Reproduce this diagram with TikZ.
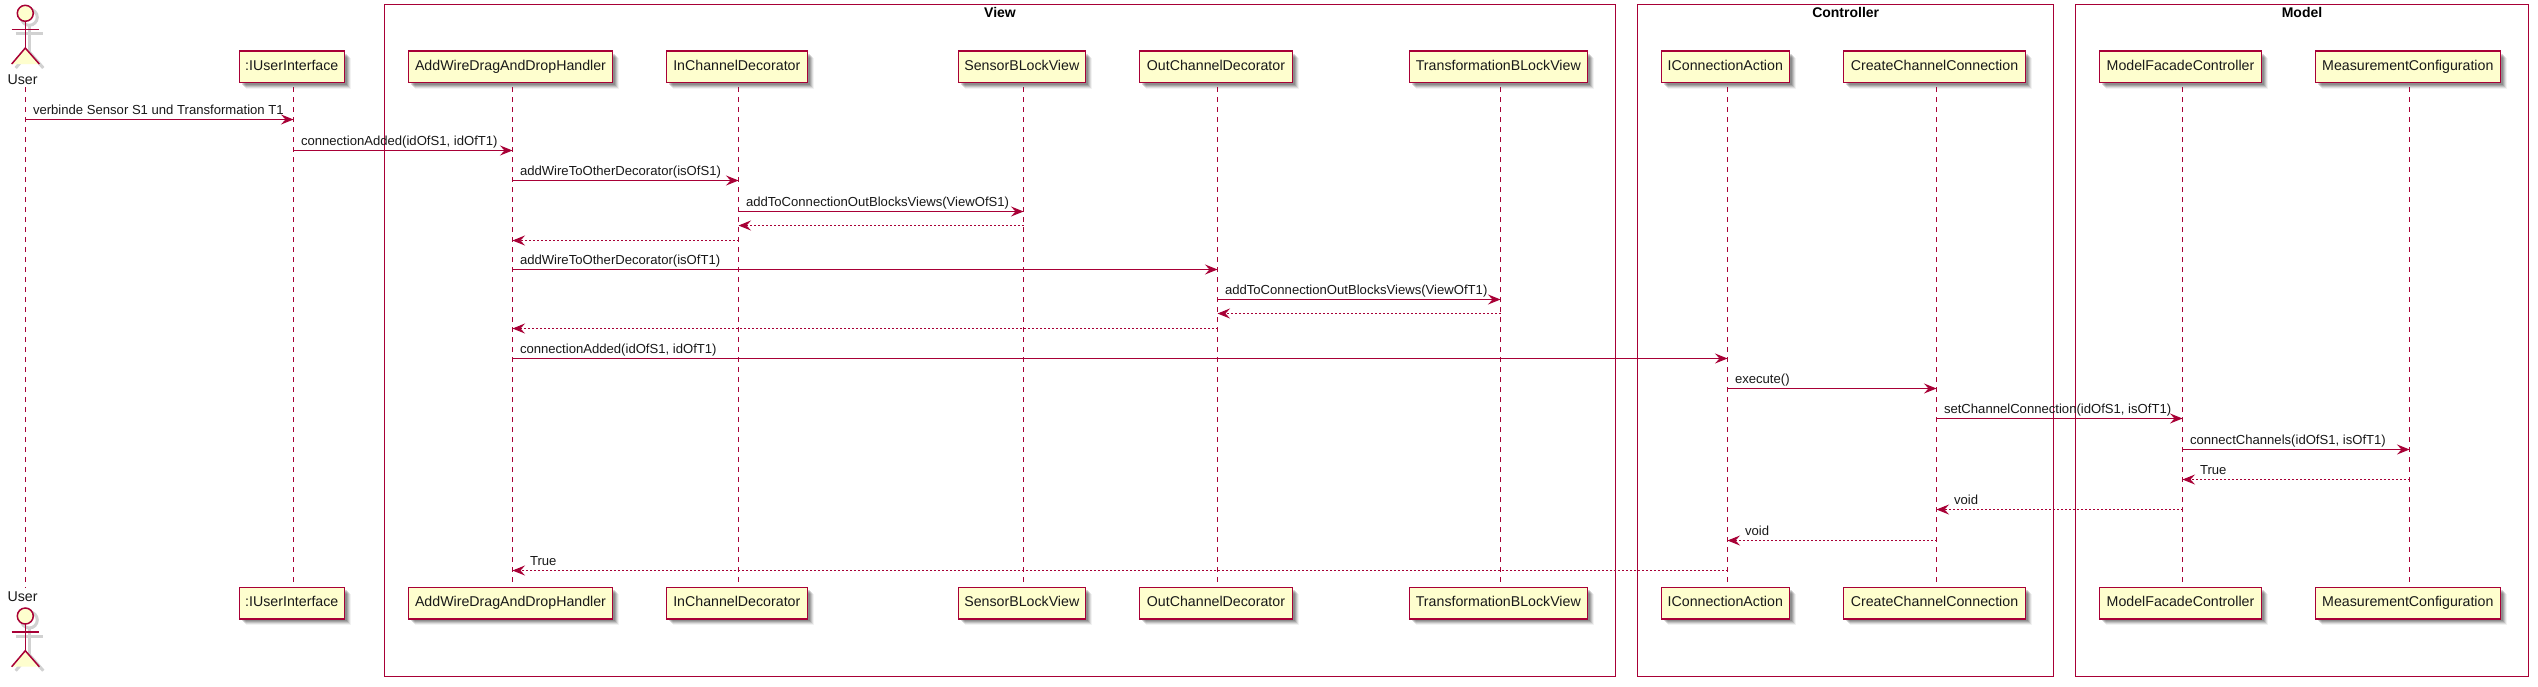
\documentclass[tikz,border=0pt]{standalone}
\usepackage{fontspec}
\setmainfont{Liberation Sans}
\usetikzlibrary{arrows.meta,shadows}
\definecolor{puml}{HTML}{A80036}
\definecolor{pfill}{HTML}{FEFECE}
\tikzset{
  softshadow/.style={
    general shadow={shadow xshift=6.5pt,shadow yshift=-6.5pt,fill=black,draw=none,opacity=.05},
    general shadow={shadow xshift=5.5pt,shadow yshift=-5.5pt,fill=black,draw=none,opacity=.09},
    general shadow={shadow xshift=4.5pt,shadow yshift=-4.5pt,fill=black,draw=none,opacity=.12},
    general shadow={shadow xshift=3.5pt,shadow yshift=-3.5pt,fill=black,draw=none,opacity=.14},
    general shadow={shadow xshift=2.5pt,shadow yshift=-2.5pt,fill=black,draw=none,opacity=.14}},
  pbox/.style={draw=puml,fill=pfill,line width=1.5pt,minimum height=31.3pt,inner sep=0pt,outer sep=0pt,
    font=\fontsize{14.2}{16}\selectfont,text height=10.5pt,text depth=3pt,text=black!90,softshadow},
  frame/.style={draw=puml,line width=1pt,inner sep=0pt,outer sep=0pt},
  frametitle/.style={font=\fontsize{14}{16}\selectfont\bfseries,inner sep=0pt},
  actorname/.style={font=\fontsize{14.2}{16}\selectfont,inner sep=0pt,text=black!90},
  lifeline/.style={draw=puml,line width=1pt,dash pattern=on 5pt off 5pt},
  msg/.style={draw=puml,line width=1pt,-{Stealth[length=12.5pt,width=10pt,inset=4.5pt,color=puml]}},
  ret/.style={draw=puml,line width=1pt,dash pattern=on 2pt off 2pt,-{Stealth[length=12.5pt,width=10pt,inset=4.5pt,color=puml]}},
  msgtext/.style={font=\fontsize{13.1}{15}\selectfont,inner sep=0pt,anchor=base west,text=black!90},
  actorline/.style={draw=puml,line width=1.5pt},
  actorshade/.style={draw=black!18,line width=3pt},
}
% name, text, left, right, lifeline x
\newcommand{\partic}[5]{%
  \pgfmathsetmacro{\pcx}{(#3+#4)/2}\pgfmathsetmacro{\pw}{#4-#3}%
  \node[pbox,minimum width=\pw pt] (#1T) at (\pcx,66.7) {#2};
  \node[pbox,minimum width=\pw pt] (#1B) at (\pcx,603.2) {#2};
  \coordinate (#1) at (#5,0);
  \coordinate (#1S) at (#5,87.3);
  \coordinate (#1E) at (#5,582.7);
  \draw[lifeline] (#1S) -- (#1E);
}
\newcommand{\call}[5]{% from, to, row y, node name, text
  \coordinate (#4r) at (0,#3);
  \draw[msg] (#1 |- #4r) -- (#2 |- #4r)
    node[pos=0,msgtext,xshift=7pt,yshift=4.6pt] (#4) {#5};
}
\newcommand{\retn}[5]{%
  \coordinate (#4r) at (0,#3);
  \draw[ret] (#1 |- #4r) -- (#2 |- #4r)
    node[pos=1,msgtext,xshift=17pt,yshift=4.6pt] (#4) {#5};
}
\newcommand{\retplain}[4]{%
  \coordinate (#4r) at (0,#3);
  \draw[ret] (#1 |- #4r) -- (#2 |- #4r);
}
\newcommand{\stick}[2]{%
  \draw[#2] (25.3,{13.3+#1}) circle (8);
  \draw[#2] (25.3,{21.3+#1}) -- (25.3,{48+#1});
  \draw[#2] (11.7,{29.3+#1}) -- (39.3,{29.3+#1});
  \draw[#2] (11.7,{64+#1}) -- (25.3,{48+#1}) -- (39.3,{64+#1});
}
\begin{document}
\begin{tikzpicture}[x=1pt,y=-1pt]
\useasboundingbox (0,0) rectangle (2538,686);
\fill[white] (0,0) rectangle (2538,686);
% groups
\node[frame,minimum width=1231pt,minimum height=672pt] (view) at (1000,340.5) {};
\node[frame,minimum width=416pt,minimum height=672pt] (ctrl) at (1845.5,340.5) {};
\node[frame,minimum width=453pt,minimum height=672pt] (model) at (2302,340.5) {};
\node[frametitle] (viewt) at (1000,12.5) {View};
\node[frametitle] (ctrlt) at (1845.7,12.5) {Controller};
\node[frametitle] (modelt) at (2302,12.5) {Model};
% actor
\begin{scope}[xshift=4pt,yshift=-4pt]
\stick{0}{actorshade}
\stick{602.7}{actorshade}
\end{scope}
\stick{0}{actorline,fill=pfill}
\stick{602.7}{actorline,fill=pfill}
\node[actorname] (userT) at (22.5,80) {User};
\node[actorname] (userB) at (22.5,597) {User};
\coordinate (user) at (25.5,0);
\coordinate (userS) at (25.5,87.3);
\coordinate (userE) at (25.5,588);
\draw[lifeline] (userS) -- (userE);
% participants
\partic{ui}{:IUserInterface}{239.3}{344.3}{293.5}
\partic{wire}{AddWireDragAndDropHandler}{408.3}{612.7}{512.5}
\partic{inch}{InChannelDecorator}{666.3}{807.3}{738.5}
\partic{sens}{SensorBLockView}{958.3}{1085.3}{1023.5}
\partic{outch}{OutChannelDecorator}{1139.3}{1292.7}{1217.5}
\partic{trans}{TransformationBLockView}{1409.3}{1587.3}{1500.5}
\partic{conn}{IConnectionAction}{1661.3}{1789.3}{1727.5}
\partic{create}{CreateChannelConnection}{1843.3}{2025.7}{1936.5}
\partic{facade}{ModelFacadeController}{2099.3}{2261.7}{2182.5}
\partic{meas}{MeasurementConfiguration}{2315.3}{2500.3}{2409.5}
% messages
\call{user}{ui}{119.5}{m1}{verbinde Sensor S1 und Transformation T1}
\call{ui}{wire}{150.5}{m2}{connectionAdded(idOfS1, idOfT1)}
\call{wire}{inch}{180.5}{m3}{addWireToOtherDecorator(isOfS1)}
\call{inch}{sens}{211.5}{m4}{addToConnectionOutBlocksViews(ViewOfS1)}
\retplain{sens}{inch}{225.5}{m5}
\retplain{inch}{wire}{240.5}{m6}
\call{wire}{outch}{269.5}{m7}{addWireToOtherDecorator(isOfT1)}
\call{outch}{trans}{299.5}{m8}{addToConnectionOutBlocksViews(ViewOfT1)}
\retplain{trans}{outch}{313.5}{m9}
\retplain{outch}{wire}{328.5}{m10}
\call{wire}{conn}{358.5}{m11}{connectionAdded(idOfS1, idOfT1)}
\call{conn}{create}{388.5}{m12}{execute()}
\call{create}{facade}{418.5}{m13}{setChannelConnection(idOfS1, isOfT1)}
\call{facade}{meas}{449.5}{m14}{connectChannels(idOfS1, isOfT1)}
\retn{meas}{facade}{479.5}{m15}{True}
\retn{facade}{create}{509.5}{m16}{void}
\retn{create}{conn}{540.5}{m17}{void}
\retn{conn}{wire}{570.5}{m18}{True}
\end{tikzpicture}
\end{document}
